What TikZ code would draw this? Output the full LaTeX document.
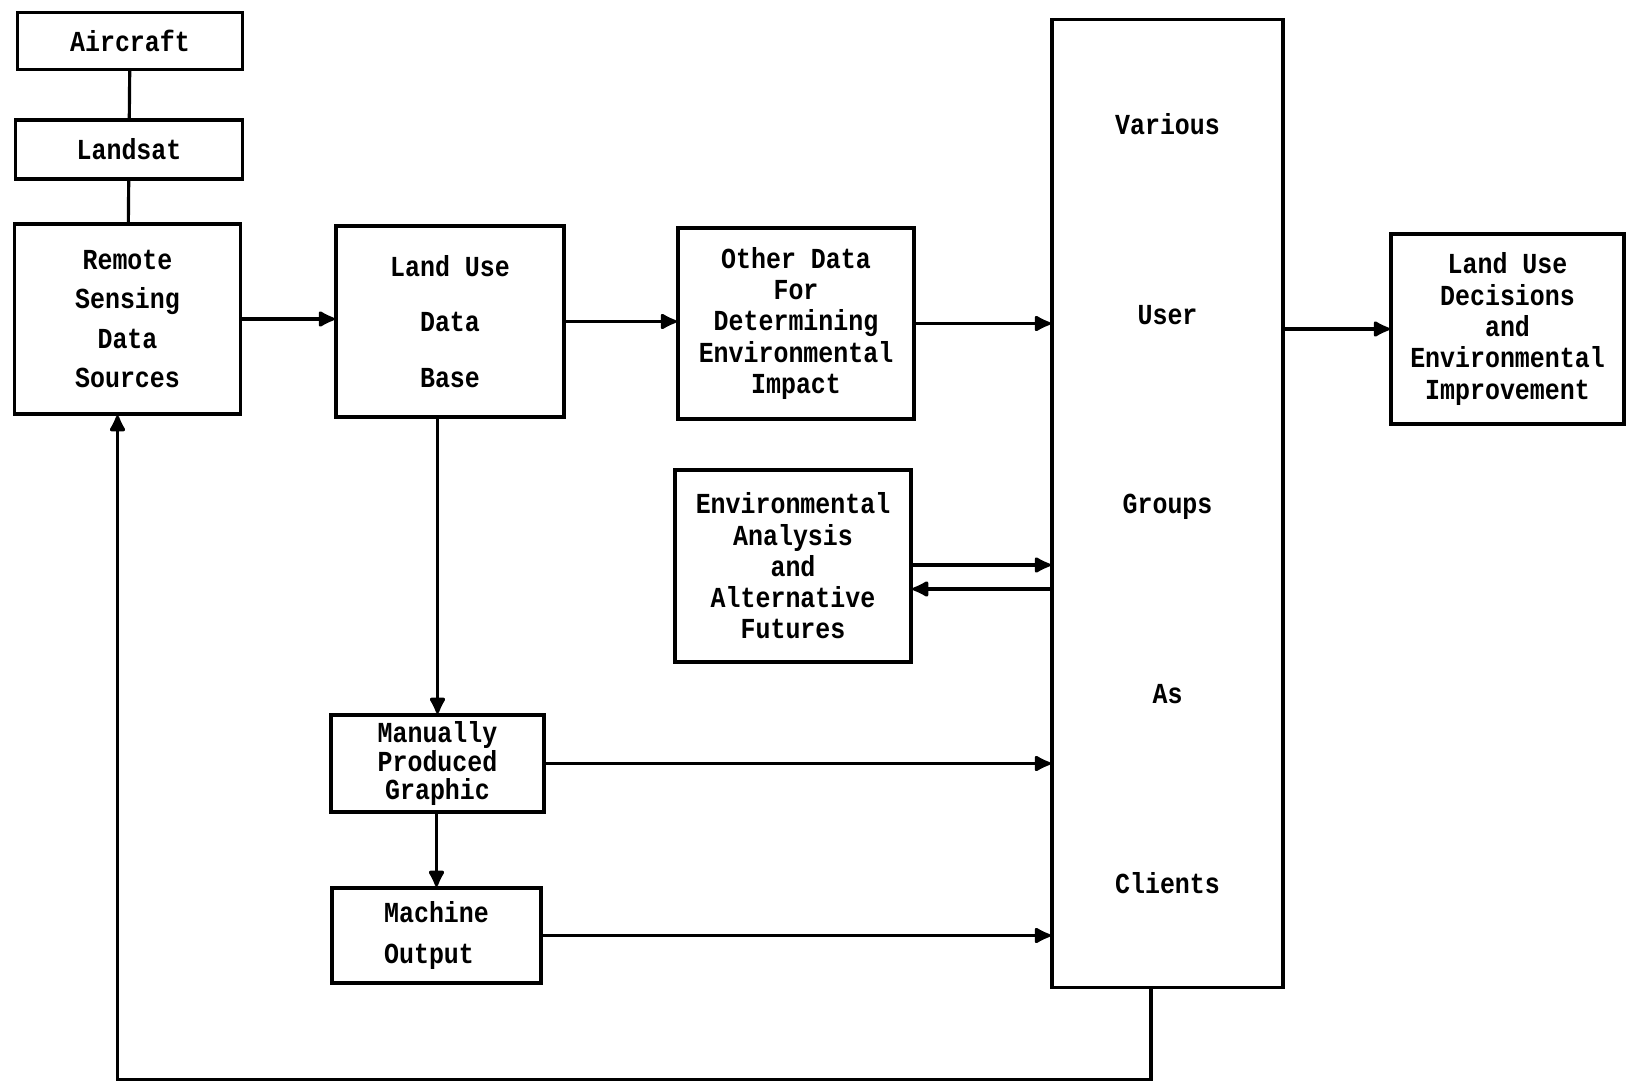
\documentclass[tikz,border=0pt]{standalone}
\usepackage{fontspec}
\newfontfamily\boxfont{Liberation Mono}[FakeStretch=0.86]
\usepackage{tikz}
\usetikzlibrary{arrows.meta,positioning,calc}

\begin{document}
\begin{tikzpicture}[
  x=0.02cm, y=-0.02cm,
  box/.style={draw, line width=1.8pt, align=center, inner sep=0pt,
              font=\boxfont\bfseries\fontsize{16.5}{17.8}\selectfont},
  >={Latex[round,length=11pt,width=10.5pt]}, line width=1.8pt
]
  \useasboundingbox (0,0) rectangle (1626,1087);

  \node[box, minimum width=4.5cm,  minimum height=1.14cm] (aircraft) at (130,41)    {Aircraft};
  \node[box, minimum width=4.54cm, minimum height=1.18cm] (landsat)  at (129,149.5) {Landsat};
  \node[box, minimum width=4.52cm, minimum height=3.8cm]  (remote)   at (127.5,319)
    {Remote\\[0.16cm]Sensing\\[0.16cm]Data\\[0.16cm]Sources};
  \node[box, minimum width=4.56cm, minimum height=3.82cm] (landuse)  at (450,321.5)
    {Land Use\\[0.48cm]Data\\[0.48cm]Base};
  \node[box, minimum width=4.72cm, minimum height=3.82cm] (other)    at (796,323.5)
    {Other Data\\For\\Determining\\Environmental\\Impact};
  \node[box, minimum width=4.72cm, minimum height=3.84cm] (envan)    at (793,566)
    {Environmental\\Analysis\\and\\Alternative\\Futures};
  \node[box, minimum width=4.26cm, minimum height=1.94cm] (manual)   at (437.5,763.5)
    {Manually\\[-1pt]Produced\\[-2pt]Graphic};
  \node[box, minimum width=4.18cm, minimum height=1.9cm, align=left] (machine) at (436.5,935.5)
    {Machine\\[0.2cm]Output};
  \node[box, minimum width=4.62cm, minimum height=19.38cm] (users)   at (1167.5,503.5)
    {Various\\[3.17cm]User\\[3.17cm]Groups\\[3.17cm]As\\[3.17cm]Clients};
  \node[box, minimum width=4.66cm, minimum height=3.8cm]  (decide)   at (1507.5,329)
    {Land Use\\Decisions\\and\\Environmental\\Improvement};

  \coordinate (envout) at ($(envan.east)+(0,-1)$);
  \coordinate (envin)  at ($(envan.east)+(0,23)$);

  \draw (aircraft) -- (landsat);
  \draw (landsat) -- (remote);
  \draw[->] (remote.east) -- (remote.east -| landuse.west);
  \draw[->] (landuse.east) -- (landuse.east -| other.west);
  \draw[->] (other.east) -- (other.east -| users.west);
  \draw[->] (users.east |- decide.west) -- (decide.west);
  \draw[->] (envout) -- (envout -| users.west);
  \draw[->] (envin -| users.west) -- (envin);
  \draw[->] (manual.north |- landuse.south) -- (manual.north);
  \draw[->] (manual.south -| machine.north) -- (machine.north);
  \draw[->] (manual.east) -- (manual.east -| users.west);
  \draw[->] (machine.east) -- (machine.east -| users.west);
  \draw[->] ([xshift=-0.33cm]users.south) -- ++(0,90) -| ([xshift=-0.2cm]remote.south);
\end{tikzpicture}
\end{document}
